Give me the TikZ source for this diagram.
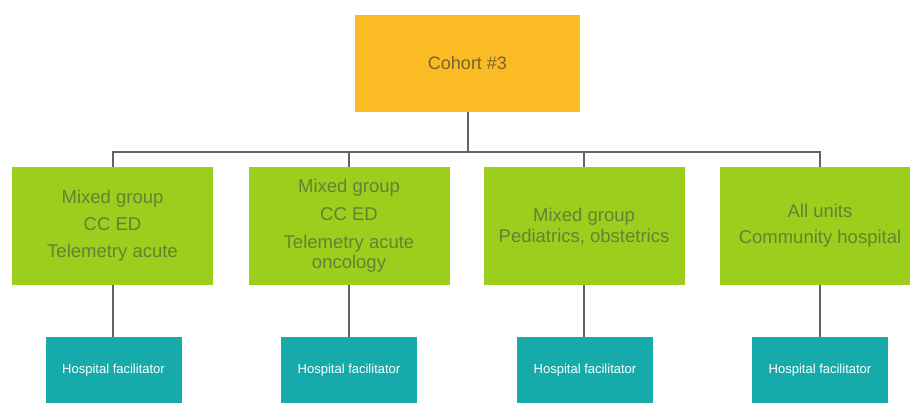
\documentclass[tikz,border=0pt]{standalone}
\usepackage{fontspec}
\setmainfont{Liberation Sans}
\definecolor{cohortfill}{RGB}{251,187,36}
\definecolor{cohorttext}{RGB}{120,100,40}
\definecolor{greenfill}{RGB}{156,206,30}
\definecolor{greentext}{RGB}{100,130,50}
\definecolor{tealfill}{RGB}{22,170,170}
\definecolor{linegray}{RGB}{100,100,100}
\begin{document}
\begin{tikzpicture}[x=1pt,y=-1pt,
  cohortbox/.style={fill=cohortfill, draw=none, minimum width=225pt, minimum height=97pt, inner sep=0pt,
    text=cohorttext, font=\fontsize{18}{20}\selectfont},
  groupbox/.style={fill=greenfill, draw=none, minimum width=201pt, minimum height=118pt, inner sep=0pt,
    text=greentext, align=center, font=\fontsize{18.5}{20}\selectfont},
  facbox/.style={fill=tealfill, draw=none, minimum width=136pt, minimum height=66pt, inner sep=0pt,
    text=white, font=\fontsize{13}{14}\selectfont},
  conn/.style={draw=linegray, line width=2pt}]
\useasboundingbox (0,0) rectangle (910,412);
\fill[white] (0,0) rectangle (910,412);
\node[cohortbox] (cohort) at (467.5,63.5) {Cohort \#3};
\node[groupbox] (g1) at (112.5,226) {Mixed group\\[7pt]CC ED\\[7pt]Telemetry acute};
\node[groupbox] (g2) at (349,226) {Mixed group\\[8pt]CC ED\\[8pt]Telemetry acute\\oncology};
\node[groupbox] (g3) at (584,226) {Mixed group\\[1pt]Pediatrics, obstetrics};
\node[groupbox] (g4) at (820,226) {All units\\[6pt]Community hospital};
\node[facbox] (f1) at (113.5,370) {Hospital facilitator};
\node[facbox] (f2) at (349,370) {Hospital facilitator};
\node[facbox] (f3) at (585,370) {Hospital facilitator};
\node[facbox] (f4) at (820,370) {Hospital facilitator};
\coordinate (bus) at (467.5,152);
\draw[conn] (cohort.south) -- (bus);
\draw[conn] (g1.north) -- (g1.north |- bus) -- (g4.north |- bus) -- (g4.north);
\draw[conn] (g2.north) -- (g2.north |- bus);
\draw[conn] (g3.north) -- (g3.north |- bus);
\draw[conn] (g1.south) -- (f1.north -| g1.south);
\draw[conn] (g2.south) -- (f2.north -| g2.south);
\draw[conn] (g3.south) -- (f3.north -| g3.south);
\draw[conn] (g4.south) -- (f4.north -| g4.south);
\end{tikzpicture}
\end{document}
